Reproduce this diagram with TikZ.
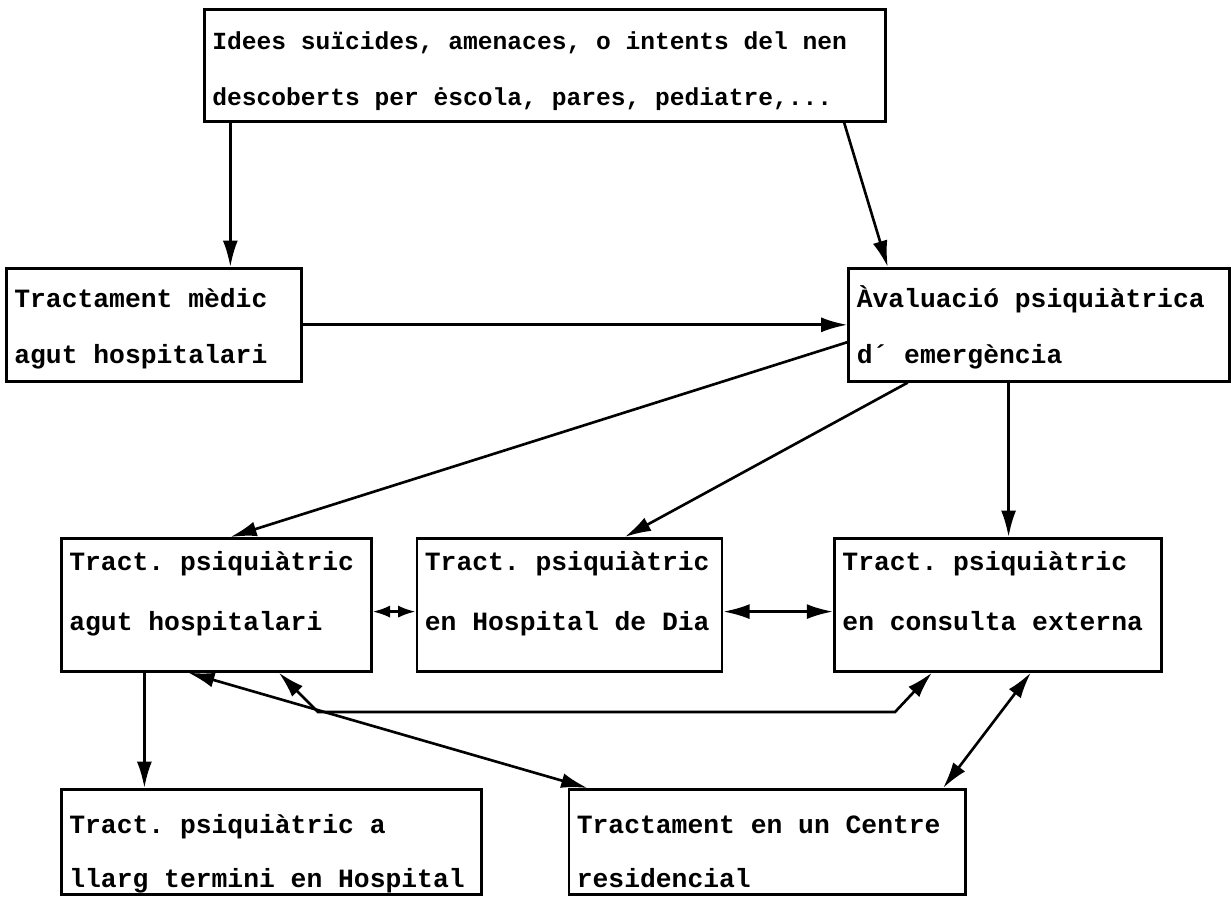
\documentclass[tikz,border=0pt]{standalone}
\usepackage{fontspec}
\setmonofont{Liberation Mono}
\usetikzlibrary{arrows.meta,positioning,calc}
\newcommand\boxfont{\ttfamily\bfseries\fontsize{15}{32}\selectfont}
\newcommand\topfont{\ttfamily\bfseries\fontsize{14}{32}\selectfont}
\newcommand\monospacing{\spaceskip=0.6em\relax\xspaceskip=0.6em\relax}

\begin{document}
\begin{tikzpicture}[
    x=0.02cm, y=-0.02cm,
    node distance=1cm and 1cm,
    box/.style={rectangle, draw=black, line width=1.5pt, anchor=north west,
                align=left, inner xsep=0.16cm, inner ysep=0pt,
                font=\boxfont, execute at begin node=\monospacing},
    arr/.style={-{Latex[length=15pt,width=8.5pt]}, line width=1.5pt},
    arrboth/.style={{Latex[length=15pt,width=8.5pt]}-{Latex[length=15pt,width=8.5pt]}, line width=1.5pt},
    arrshort/.style={{Latex[length=10pt,width=7pt]}-{Latex[length=10pt,width=7pt]}, line width=1.5pt},
]
\useasboundingbox (0,0) rectangle (1231,897);

% Top
\node[box, text width=13.3cm, text height=0.8cm, text depth=1.44cm, font=\topfont] (idees) at (203,8)
    {Idees suïcides, amenaces, o intents del nen\\descoberts per ėscola, pares, pediatre,...};

% Second row
\node[box, text width=5.58cm, text height=0.78cm, text depth=1.48cm] (medic) at (5,267)
    {Tractament mèdic\\agut hospitalari};
\node[box, text width=7.30cm, text height=0.78cm, text depth=1.48cm, right=10.9cm of medic] (avaluacio)
    {Àvaluació psiquiàtrica\\d´ emergència};

% Third row
\node[box, text width=5.88cm, text height=0.64cm, text depth=2.02cm] (agut) at (60,537)
    {Tract. psiquiàtric\\[2pt]agut hospitalari};
\node[box, text width=5.78cm, text height=0.64cm, text depth=2.02cm, right=0.86cm of agut] (dia)
    {Tract. psiquiàtric\\[2pt]en Hospital de Dia};
\node[box, text width=6.22cm, text height=0.64cm, text depth=2.02cm, right=2.2cm of dia] (externa)
    {Tract. psiquiàtric\\[2pt]en consulta externa};

% Bottom row
\node[box, text width=8.08cm, text height=0.88cm, text depth=1.22cm] (llarg) at (60,788)
    {Tract. psiquiàtric a\\[-1pt]llarg termini en Hospital};
\node[box, text width=7.62cm, text height=0.88cm, text depth=1.22cm, right=1.7cm of llarg] (centre)
    {Tractament en un Centre\\[-1pt]residencial};

% Arrows
\draw[arr] ($(idees.south west)!0.04!(idees.south east)$) coordinate (s1) -- (s1 |- medic.north);
\draw[arr] ($(idees.south west)!0.938!(idees.south east)$) -- ($(avaluacio.north west)!0.105!(avaluacio.north east)$);
\draw[arr] (medic.east) -- (medic.east -| avaluacio.west);
\draw[arr] ($(avaluacio.north west)!0.65!(avaluacio.south west)$) -- ($(agut.north west)!0.545!(agut.north east)$);
\draw[arr] ($(avaluacio.south west)!0.157!(avaluacio.south east)$) -- ($(dia.north west)!0.68!(dia.north east)$);
\draw[arr] ($(avaluacio.south west)!0.42!(avaluacio.south east)$) coordinate (s2) -- (s2 |- externa.north);
\draw[arrshort] ($(agut.north east)!0.55!(agut.south east)$) coordinate (s3) -- (s3 -| dia.west);
\draw[arrboth] ($(dia.north east)!0.55!(dia.south east)$) coordinate (s4) -- (s4 -| externa.west);
\draw[arr] ($(agut.south west)!0.27!(agut.south east)$) coordinate (s5) -- (s5 |- llarg.north);
\draw[arrboth] ($(agut.south west)!0.41!(agut.south east)$) -- ($(centre.north west)!0.05!(centre.north east)$);
\coordinate (kneeL) at (318,712);
\coordinate (kneeR) at (895,712);
\draw[arrboth] ($(agut.south west)!0.70!(agut.south east)$) -- (kneeL) -- (kneeR)
    -- ($(externa.south west)!0.30!(externa.south east)$);
\draw[arrboth] ($(externa.south west)!0.60!(externa.south east)$) -- ($(centre.north west)!0.94!(centre.north east)$);
\end{tikzpicture}
\end{document}
